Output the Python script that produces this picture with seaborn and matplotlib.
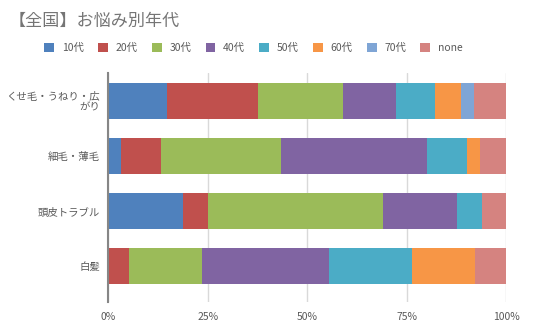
import matplotlib
matplotlib.use("Agg")
import matplotlib.pyplot as plt
import seaborn as sns
import numpy as np
import pandas as pd
from matplotlib.patches import Patch
from matplotlib.ticker import FuncFormatter

categories = ["くせ毛・うねり・広\nがり", "細毛・薄毛", "頭皮トラブル", "白髪"]
series = ["10代", "20代", "30代", "40代", "50代", "60代", "70代", "none"]
colors = ["#4F81BD", "#C0504D", "#9BBB59", "#8064A2", "#4BACC6", "#F79646", "#7FA5D5", "#D58380"]

v_10 = [14.7, 3.2, 18.7, 0.0]
v_20 = [23.0, 10.0, 6.3, 5.3]
v_30 = [21.3, 30.2, 43.9, 18.2]
v_40 = [13.3, 36.8, 18.7, 31.9]
v_50 = [9.8, 9.8, 6.4, 21.0]
v_60 = [6.4, 3.5, 0.0, 15.7]
v_70 = [3.4, 0.0, 0.0, 0.0]
v_none = [8.1, 6.5, 6.0, 7.9]
values = [v_10, v_20, v_30, v_40, v_50, v_60, v_70, v_none]

xticks = [0, 25, 50, 75, 100]

sns.set_theme(style="white")
plt.rcParams['font.family'] = ['Noto Sans CJK JP', 'DejaVu Sans']

fig = plt.figure(figsize=(5.36, 3.28), dpi=100)
ax = fig.add_axes([0.202, 0.0793, 0.7426, 0.6981])

arr = np.array(values)
cum = np.cumsum(arr, axis=0)
for i in range(len(series) - 1, -1, -1):
    df = pd.DataFrame({"cat": categories, "val": cum[i]})
    sns.barplot(data=df, x="val", y="cat", orient="h", color=colors[i],
                saturation=1, width=0.65, ax=ax, linewidth=0, order=categories)

ax.set_xlim(0, 100)
ax.set_ylim(3.65, -0.51)
ax.set_xticks(xticks)
ax.xaxis.set_major_formatter(FuncFormatter(lambda v, p: f"{int(v)}%"))
ax.set_xlabel("")
ax.set_ylabel("")
ax.grid(axis="x", color="#D9D9D9", linewidth=1)
ax.set_axisbelow(True)
for s in ["top", "right", "bottom"]:
    ax.spines[s].set_visible(False)
ax.spines["left"].set_color("#868686")
ax.spines["left"].set_linewidth(1.5)
ax.tick_params(axis="x", length=0, pad=7, labelsize=7.5, labelcolor="#595959")
ax.tick_params(axis="y", length=0, pad=6, labelsize=7.5, labelcolor="#595959")
for lbl in ax.get_yticklabels():
    lbl.set_linespacing(1.0)

fig.text(0.017, 0.935, "【全国】お悩み別年代", fontsize=12.3, color="#757575",
         ha="left", va="center")

handles = [Patch(facecolor=c, edgecolor="none") for c in colors]
fig.legend(handles, series, loc="center left", bbox_to_anchor=(0.083, 0.855),
           ncol=8, frameon=False, fontsize=7.5, handlelength=0.95, handleheight=0.95,
           handletextpad=0.75, columnspacing=1.35, labelcolor="#595959",
           borderaxespad=0, borderpad=0)

fig.savefig("out.png", dpi=100)
